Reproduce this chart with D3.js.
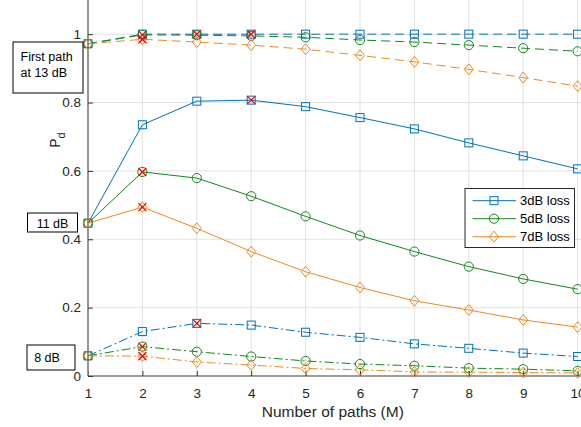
<!DOCTYPE html>
<html><head><meta charset="utf-8">
<script src="https://cdn.jsdelivr.net/npm/d3@7"></script>
<style>
body{margin:0;background:#fff;}
svg text{font-family:"Liberation Sans",Arial,Helvetica,sans-serif;}
</style></head>
<body><div id="chart"></div>
<script>
const xValues = [1,2,3,4,5,6,7,8,9,10];
const seriesNames = ["3dB loss","5dB loss","7dB loss"];
const seriesColors = ["#0072BD","#13891a","#ee8b1e"];
const seriesMarkers = ["square","circle","diamond"];
const yTicks = [0,0.2,0.4,0.6,0.8,1];
const xTicks = [1,2,3,4,5,6,7,8,9,10];

// First path at 13 dB (dashed)
const loss3_13 = [0.972,1.000,1.000,1.000,1.000,1.000,1.000,1.000,1.000,1.000];
const loss5_13 = [0.972,0.998,0.997,0.995,0.991,0.983,0.977,0.968,0.959,0.950];
const loss7_13 = [0.972,0.985,0.977,0.968,0.956,0.938,0.919,0.897,0.873,0.848];
// First path at 11 dB (solid)
const loss3_11 = [0.447,0.735,0.804,0.807,0.788,0.756,0.723,0.682,0.644,0.606];
const loss5_11 = [0.447,0.597,0.579,0.526,0.467,0.411,0.364,0.320,0.284,0.254];
const loss7_11 = [0.447,0.494,0.432,0.364,0.305,0.259,0.220,0.193,0.164,0.143];
// First path at 8 dB (dash-dot)
const loss3_8 = [0.059,0.130,0.154,0.149,0.128,0.113,0.094,0.081,0.067,0.057];
const loss5_8 = [0.059,0.086,0.071,0.057,0.044,0.035,0.030,0.023,0.020,0.015];
const loss7_8 = [0.059,0.058,0.041,0.032,0.022,0.018,0.012,0.011,0.010,0.009];

const groups = [
  {label:["First path","at 13 dB"], dash:"9,5", data:[loss3_13,loss5_13,loss7_13]},
  {label:["11 dB"], dash:null, data:[loss3_11,loss5_11,loss7_11]},
  {label:["8 dB"], dash:"9,3,2,3", data:[loss3_8,loss5_8,loss7_8]}
];
// red X markers: [group index, series index, x]
const bestMarks = [[0,1,2],[0,2,2],[0,0,3],[0,0,4],[1,0,4],[1,1,2],[1,2,2],[2,0,3],[2,1,2],[2,2,2]];

const W=581,H=427;
const svg=d3.select("#chart").append("svg").attr("width",W).attr("height",H);
const x=d3.scaleLinear().domain([1,10]).range([88,577.6]);
const y=d3.scaleLinear().domain([0,1.1]).range([376,0]);

// grid
svg.append("g").selectAll("line").data(xTicks).join("line")
  .attr("x1",d=>x(d)).attr("x2",d=>x(d)).attr("y1",0).attr("y2",376)
  .attr("stroke","#e3e3e3").attr("stroke-width",1);
svg.append("g").selectAll("line").data(yTicks).join("line")
  .attr("x1",88).attr("x2",W).attr("y1",d=>y(d)).attr("y2",d=>y(d))
  .attr("stroke","#e3e3e3").attr("stroke-width",1);

// axes
const xAxis=svg.append("g").attr("transform","translate(0,376)")
  .call(d3.axisBottom(x).tickValues(xTicks).tickSize(-5).tickPadding(12).tickFormat(d3.format("d")));
const yAxis=svg.append("g").attr("transform","translate(88,0)")
  .call(d3.axisLeft(y).tickValues(yTicks).tickSize(-5).tickPadding(7).tickFormat(d=>d===0?"0":(d===1?"1":d3.format(".1f")(d))));
[xAxis,yAxis].forEach(a=>{
  a.select(".domain").attr("stroke","#7f7f7f").attr("stroke-width",1.6);
  a.selectAll(".tick line").attr("stroke","#333");
  a.selectAll(".tick text").attr("fill","#262626").style("font-size","13.5px");
});
yAxis.select(".domain").attr("d","M0,0V376");
xAxis.select(".domain").attr("d","M88,0H"+W);

// lines and markers
const line=d3.line().x((d,i)=>x(xValues[i])).y(d=>y(d));
function drawMarker(g,type,cx,cy,color){
  if(type==="square") g.append("rect").attr("x",cx-4).attr("y",cy-4).attr("width",8).attr("height",8)
    .attr("fill","none").attr("stroke",color).attr("stroke-width",1);
  else if(type==="circle") g.append("circle").attr("cx",cx).attr("cy",cy).attr("r",4.6)
    .attr("fill","none").attr("stroke",color).attr("stroke-width",1);
  else g.append("path").attr("d",`M${cx},${cy-5.5}L${cx+4.5},${cy}L${cx},${cy+5.5}L${cx-4.5},${cy}Z`)
    .attr("fill","none").attr("stroke",color).attr("stroke-width",1);
}
const plot=svg.append("g");
groups.forEach(grp=>{
  grp.data.forEach((vals,si)=>{
    const p=plot.append("path").datum(vals).attr("d",line).attr("fill","none")
      .attr("stroke",seriesColors[si]).attr("stroke-width",1);
    if(grp.dash) p.attr("stroke-dasharray",grp.dash);
  });
});
groups.forEach(grp=>{
  grp.data.forEach((vals,si)=>{
    const g=plot.append("g");
    vals.forEach((v,i)=>drawMarker(g,seriesMarkers[si],x(xValues[i]),y(v),seriesColors[si]));
  });
});
// red X
bestMarks.forEach(([gi,si,xv])=>{
  const cx=x(xv), cy=y(groups[gi].data[si][xv-1]), s=4;
  plot.append("path").attr("d",`M${cx-s},${cy-s}L${cx+s},${cy+s}M${cx-s},${cy+s}L${cx+s},${cy-s}`)
    .attr("stroke","#ff0000").attr("stroke-width",1.3).attr("fill","none");
});

// text boxes
const boxes=[
  {x0:13,y0:42,w:70,h:51,lines:groups[0].label,tx:20.5,ty:[61,77],anchor:"start"},
  {x0:27.5,y0:213,w:50,h:19,lines:groups[1].label,tx:52.5,ty:[227.5],anchor:"middle"},
  {x0:27,y0:345,w:48,h:25,lines:groups[2].label,tx:47,ty:[362],anchor:"middle"}
];
boxes.forEach(b=>{
  svg.append("rect").attr("x",b.x0).attr("y",b.y0).attr("width",b.w).attr("height",b.h)
    .attr("fill","#fff").attr("stroke","#000").attr("stroke-width",1);
  b.lines.forEach((t,i)=>svg.append("text").attr("x",b.tx).attr("y",b.ty[i]).attr("text-anchor",b.anchor)
    .attr("fill","#000").style("font-size","12.5px").text(t));
});

// legend
const lg=svg.append("g");
lg.append("rect").attr("x",465).attr("y",188.5).attr("width",109.5).attr("height",59)
  .attr("fill","#fff").attr("stroke","#262626").attr("stroke-width",1);
seriesNames.forEach((n,i)=>{
  const ly=200.7+i*18;
  lg.append("line").attr("x1",472.5).attr("x2",516).attr("y1",ly).attr("y2",ly)
    .attr("stroke",seriesColors[i]).attr("stroke-width",1);
  drawMarker(lg,seriesMarkers[i],494,ly,seriesColors[i]);
  lg.append("text").attr("x",520).attr("y",ly+4.6).attr("fill","#000").style("font-size","13px").text(n);
});

// axis labels
svg.append("text").attr("x",332.8).attr("y",417).attr("text-anchor","middle").attr("fill","#262626")
  .style("font-size","15.5px").text("Number of paths (M)");
const yl=svg.append("text").attr("transform","translate(60,140) rotate(-90)").attr("text-anchor","middle")
  .attr("fill","#262626").style("font-size","14px");
yl.append("tspan").text("P");
yl.append("tspan").attr("dy",5).style("font-size","11px").text("d");
</script></body></html>
